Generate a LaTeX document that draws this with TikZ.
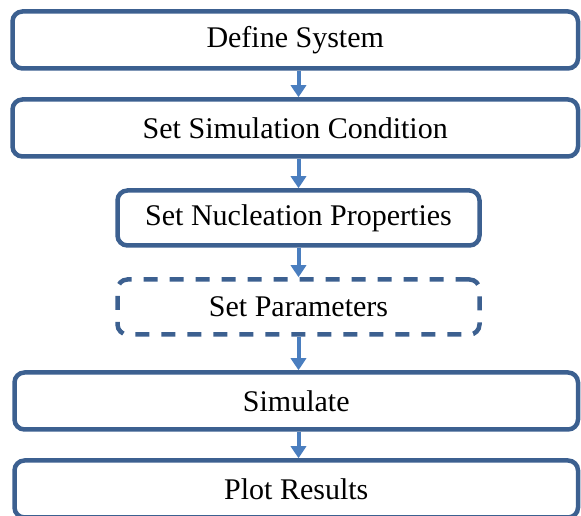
\documentclass[tikz,border=0pt]{standalone}
\usepackage{fontspec}
\setmainfont{Liberation Serif}
\usetikzlibrary{arrows.meta}

\definecolor{boxblue}{HTML}{3C6090}
\definecolor{arrowblue}{HTML}{4A7EBF}

\begin{document}
\begin{tikzpicture}[x=1pt,y=1pt,
    stage/.style={draw=boxblue, line width=4.5pt, rounded corners=10pt,
        inner sep=0pt, font=\fontsize{30}{36}\selectfont},
    flow/.style={draw=arrowblue, line width=4pt, -{Triangle[width=15pt,length=12pt]}}]
    \useasboundingbox (0,0) rectangle (581,516);

    \node[stage, minimum width=565.5pt, minimum height=57pt] (define) at (295.25,476) {Define System};
    \node[stage, minimum width=565.5pt, minimum height=57pt] (simcond) at (295.25,388) {Set Simulation Condition};
    \node[stage, minimum width=362pt, minimum height=55pt] (nucl) at (298.5,298) {Set Nucleation Properties};
    \node[stage, dash pattern=on 14pt off 12pt, minimum width=362pt, minimum height=55pt] (params) at (298.5,209) {Set Parameters};
    \node[stage, minimum width=563.5pt, minimum height=57pt] (simulate) at (296.25,115) {Simulate};
    \node[stage, minimum width=563.5pt, minimum height=57pt] (plot) at (296.25,27) {Plot Results};

    \draw[flow] (define.south -| nucl) -- (simcond.north -| nucl);
    \draw[flow] (simcond.south -| nucl) -- (nucl.north);
    \draw[flow] (nucl.south) -- (params.north);
    \draw[flow] (params.south) -- (simulate.north -| nucl);
    \draw[flow] (simulate.south -| nucl) -- (plot.north -| nucl);
\end{tikzpicture}
\end{document}
